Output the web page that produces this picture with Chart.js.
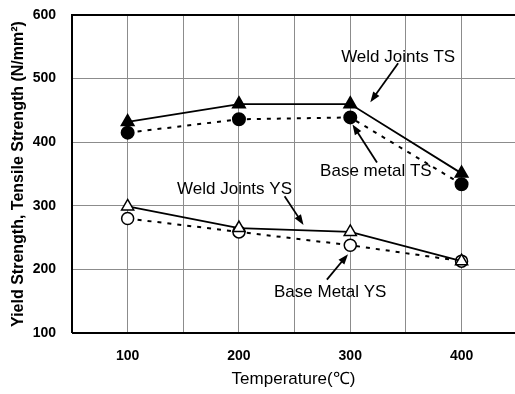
<!DOCTYPE html>
<html>
<head>
<meta charset="utf-8">
<script src="https://cdn.jsdelivr.net/npm/chart.js@4"></script>
<style>
  html, body { margin: 0; padding: 0; background: #fff; overflow: hidden; }
  #wrap { width: 515px; height: 394px; }
</style>
</head>
<body>
<div id="wrap"><canvas id="chart" width="515" height="394"></canvas></div>
<script>
const temps = [100, 200, 300, 400];
const weldTS = [432, 460, 460, 351];
const baseTS = [415, 436, 439, 334];
const weldYS = [299, 265, 259, 213];
const baseYS = [280, 259, 238, 213];
const xGrid = [50, 100, 150, 200, 250, 300, 350, 400];

// callout labels: text position and arrow (from -> to), in data units
const callouts = [
  { text: "Weld Joints TS", tx: 343, ty: 534, ax1: 343, ay1: 524, ax2: 318, ay2: 463 },
  { text: "Base metal TS", tx: 323, ty: 355, ax1: 324, ay1: 368, ax2: 302, ay2: 428 },
  { text: "Weld Joints YS", tx: 196, ty: 326, ax1: 241, ay1: 315, ax2: 258, ay2: 270 },
  { text: "Base Metal YS", tx: 282, ty: 164, ax1: 279, ay1: 184, ax2: 298, ay2: 224 }
];

const pts = arr => temps.map((t, i) => ({ x: t, y: arr[i] }));

const framePlugin = {
  id: "frame",
  afterDatasetsDraw(c) {
    const { ctx, chartArea: a, scales } = c;
    const x = scales.x, y = scales.y;
    ctx.save();
    ctx.strokeStyle = "#000";
    ctx.lineWidth = 2;
    ctx.beginPath();
    ctx.moveTo(a.left, a.bottom);
    ctx.lineTo(a.left, a.top);
    ctx.lineTo(c.width, a.top);
    ctx.moveTo(a.left, a.bottom);
    ctx.lineTo(c.width, a.bottom);
    ctx.stroke();

    ctx.font = "17px 'Liberation Sans', Arial, sans-serif";
    ctx.fillStyle = "#000";
    ctx.textAlign = "center";
    ctx.textBaseline = "middle";
    callouts.forEach(o => {
      ctx.fillText(o.text, x.getPixelForValue(o.tx), y.getPixelForValue(o.ty));
      const x1 = x.getPixelForValue(o.ax1), y1 = y.getPixelForValue(o.ay1);
      const x2 = x.getPixelForValue(o.ax2), y2 = y.getPixelForValue(o.ay2);
      const ang = Math.atan2(y2 - y1, x2 - x1);
      ctx.lineWidth = 1.8;
      ctx.beginPath();
      ctx.moveTo(x1, y1);
      ctx.lineTo(x2 - 6 * Math.cos(ang), y2 - 6 * Math.sin(ang));
      ctx.stroke();
      ctx.beginPath();
      ctx.moveTo(x2, y2);
      ctx.lineTo(x2 - 11 * Math.cos(ang - 0.35), y2 - 11 * Math.sin(ang - 0.35));
      ctx.lineTo(x2 - 11 * Math.cos(ang + 0.35), y2 - 11 * Math.sin(ang + 0.35));
      ctx.closePath();
      ctx.fill();
    });
    ctx.restore();
  }
};

new Chart(document.getElementById("chart"), {
  type: "line",
  data: {
    datasets: [
      { label: "Weld Joints TS", data: pts(weldTS), borderColor: "#000", borderWidth: 1.8,
        pointStyle: "triangle", pointRadius: 7, pointBackgroundColor: "#000", pointBorderColor: "#000", order: 1 },
      { label: "Base metal TS", data: pts(baseTS), borderColor: "#000", borderWidth: 2, borderDash: [4, 6],
        pointStyle: "circle", pointRadius: 6, pointBackgroundColor: "#000", pointBorderColor: "#000", order: 2 },
      { label: "Weld Joints YS", data: pts(weldYS), borderColor: "#000", borderWidth: 1.8,
        pointStyle: "triangle", pointRadius: 7, pointBackgroundColor: "#fff", pointBorderColor: "#000", pointBorderWidth: 1.5, order: 1 },
      { label: "Base Metal YS", data: pts(baseYS), borderColor: "#000", borderWidth: 2, borderDash: [4, 6],
        pointStyle: "circle", pointRadius: 6, pointBackgroundColor: "#fff", pointBorderColor: "#000", pointBorderWidth: 1.5, order: 2 }
    ]
  },
  options: {
    responsive: false,
    animation: false,
    layout: { autoPadding: false, padding: { top: 15, right: 0, left: 0, bottom: 0 } },
    plugins: { legend: { display: false }, tooltip: { enabled: false } },
    scales: {
      x: {
        type: "linear", min: 50, max: 448,
        border: { display: false },
        grid: { color: "#8c8c8c", lineWidth: 1, drawTicks: false },
        afterBuildTicks: s => { s.ticks = xGrid.map(v => ({ value: v })); },
        ticks: {
          autoSkip: false, maxRotation: 0, padding: 15,
          color: "#000", font: { family: "'Liberation Sans', Arial", size: 14, weight: "bold" },
          callback: v => (temps.includes(v) ? String(v) : "")
        },
        title: {
          display: true, text: "Temperature(℃)", color: "#000",
          font: { family: "'Liberation Sans', Arial", size: 17 }, padding: { top: 4 }
        },
        afterFit: s => { s.height = 61; s.paddingLeft = 0; s.paddingRight = 0; }
      },
      y: {
        min: 100, max: 600,
        border: { display: false },
        grid: { color: "#8c8c8c", lineWidth: 1, drawTicks: false },
        ticks: {
          stepSize: 100, padding: 16,
          color: "#000", font: { family: "'Liberation Sans', Arial", size: 14, weight: "bold" }
        },
        title: {
          display: true, text: "Yield Strength, Tensile Strength (N/mm²)", color: "#000",
          font: { family: "'Liberation Sans', Arial", size: 16, weight: "bold" }, padding: { top: 9, bottom: 0 }
        },
        afterFit: s => { s.width = 72; s.paddingTop = 0; s.paddingBottom = 0; }
      }
    }
  },
  plugins: [framePlugin]
});
</script>
</body>
</html>
